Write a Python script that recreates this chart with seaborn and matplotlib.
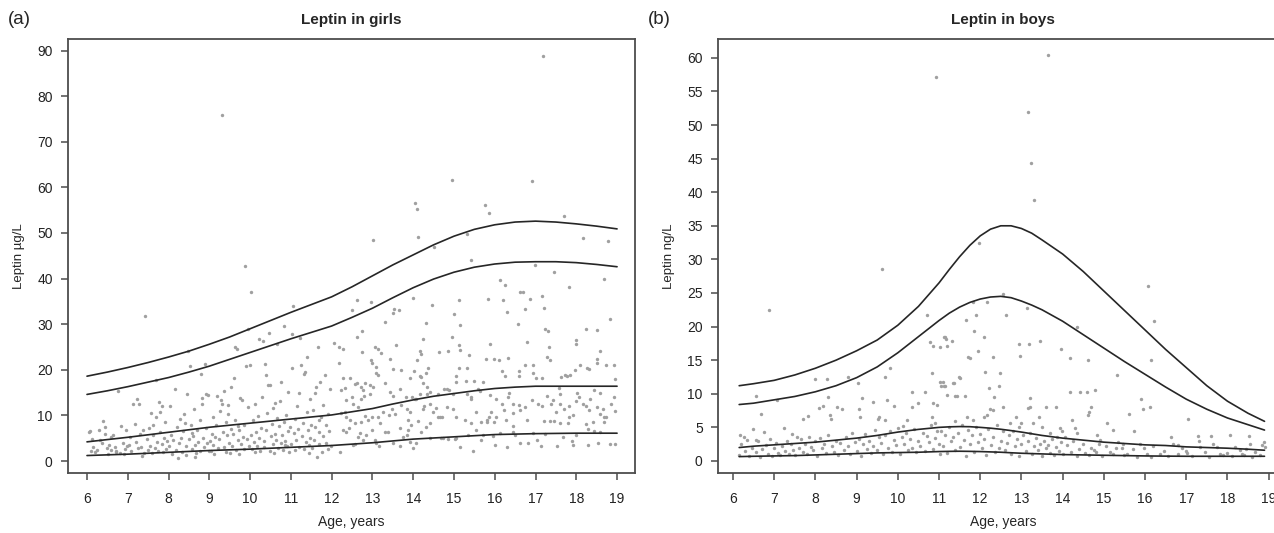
import matplotlib
matplotlib.use("Agg")
import matplotlib.pyplot as plt
import pandas as pd
import seaborn as sns

# percentile curves, girls (ages in years, leptin ug/L)
girls_curve_age = [6, 6.5, 7, 7.5, 8, 8.5, 9, 9.5, 10, 10.5, 11, 11.5, 12, 12.5, 13, 13.5,
                   14, 14.5, 15, 15.5, 16, 16.5, 17, 17.5, 18, 18.5, 19]
girls_p97 = [18.6, 19.5, 20.5, 21.6, 22.8, 24.1, 25.6, 27.2, 29.0, 30.8, 32.6, 34.3, 36.0, 38.2,
             40.6, 43.0, 45.2, 47.4, 49.3, 50.8, 51.8, 52.4, 52.6, 52.4, 52.0, 51.5, 50.9]
girls_p90 = [14.6, 15.4, 16.3, 17.3, 18.3, 19.5, 20.8, 22.3, 23.8, 25.3, 26.8, 28.2, 29.6, 31.5,
             33.5, 35.8, 38.0, 39.9, 41.4, 42.5, 43.2, 43.6, 43.7, 43.7, 43.5, 43.1, 42.6]
girls_p50 = [4.2, 4.7, 5.2, 5.75, 6.3, 6.85, 7.4, 7.85, 8.3, 8.75, 9.2, 9.65, 10.1, 10.8,
             11.5, 12.5, 13.4, 14.2, 14.8, 15.4, 15.9, 16.2, 16.4, 16.4, 16.4, 16.4, 16.4]
girls_p3 = [1.2, 1.35, 1.5, 1.7, 1.9, 2.1, 2.3, 2.45, 2.6, 2.8, 3.0, 3.2, 3.4, 3.7,
            4.0, 4.4, 4.8, 5.05, 5.3, 5.55, 5.8, 5.9, 6.0, 6.05, 6.1, 6.1, 6.1]

# percentile curves, boys (ng/L)
boys_curve_age = [6.15, 6.5, 7, 7.5, 8, 8.5, 9, 9.5, 10, 10.5, 11, 11.25, 11.5, 11.75, 12,
                  12.25, 12.5, 12.75, 13, 13.25, 13.5, 14, 14.5, 15, 15.5, 16, 16.5, 17,
                  17.5, 18, 18.5, 18.9]
boys_p97 = [11.2, 11.5, 12.0, 12.8, 13.8, 15.0, 16.4, 18.0, 20.2, 23.0, 26.5, 28.5, 30.4, 32.1,
            33.5, 34.5, 35.0, 35.0, 34.6, 33.9, 32.9, 30.8, 28.2, 25.3, 22.4, 19.5, 16.6, 13.9,
            11.2, 8.9, 7.1, 5.9]
boys_p90 = [8.4, 8.6, 9.1, 9.6, 10.3, 11.2, 12.4, 14.0, 16.1, 18.5, 20.9, 22.0, 22.9, 23.6,
            24.1, 24.4, 24.5, 24.3, 23.8, 23.2, 22.5, 20.8, 18.8, 16.8, 14.8, 12.9, 11.0, 9.2,
            7.7, 6.4, 5.4, 4.6]
boys_p50 = [2.0, 2.2, 2.4, 2.6, 2.8, 3.1, 3.4, 3.8, 4.3, 4.7, 5.0, 5.08, 5.12, 5.1, 5.0,
            4.88, 4.72, 4.52, 4.3, 4.05, 3.8, 3.4, 3.1, 2.8, 2.6, 2.4, 2.3, 2.1, 2.0, 1.9,
            1.75, 1.6]
boys_p3 = [0.65, 0.7, 0.75, 0.8, 0.9, 1.0, 1.1, 1.2, 1.25, 1.3, 1.4, 1.43, 1.45, 1.43, 1.4,
           1.35, 1.3, 1.22, 1.15, 1.1, 1.05, 0.95, 0.9, 0.85, 0.8, 0.75, 0.72, 0.7, 0.7, 0.7,
           0.7, 0.7]

# individual measurements, girls (age, leptin)
girls_points = [
    (6.05, 6.3), (6.07, 6.6), (6.1, 2.3), (6.15, 3.0), (6.2, 1.9), (6.25, 2.5), (6.29, 6.9), (6.33, 4.5),
    (6.39, 8.8), (6.43, 5.9), (6.48, 2.8), (6.52, 1.6), (6.55, 3.6), (6.6, 2.4), (6.64, 5.7), (6.68, 3.1),
    (6.72, 2.0), (6.76, 15.4), (6.8, 1.8), (6.84, 7.7), (6.88, 4.0), (6.92, 2.7), (6.96, 6.8), (6.99, 3.3),
    (6.12, 4.8), (6.36, 3.9), (6.58, 5.2), (6.7, 2.2), (6.9, 1.5), (6.45, 7.4),
    (7.02, 3.5), (7.05, 5.3), (7.08, 2.1), (7.13, 12.6), (7.17, 8.1), (7.2, 4.2), (7.23, 13.7), (7.25, 2.8),
    (7.27, 12.5), (7.3, 6.0), (7.33, 3.0), (7.37, 6.9), (7.4, 1.8), (7.43, 31.8), (7.46, 4.9), (7.5, 2.5),
    (7.53, 7.2), (7.55, 3.4), (7.58, 10.6), (7.6, 1.7), (7.63, 5.6), (7.66, 2.9), (7.68, 9.7), (7.69, 17.8),
    (7.72, 4.1), (7.74, 2.2), (7.76, 13.0), (7.78, 10.8), (7.8, 6.4), (7.83, 3.7), (7.86, 1.9), (7.88, 5.0),
    (7.91, 8.6), (7.94, 2.6), (7.97, 4.4), (7.35, 1.2), (7.62, 7.9), (7.85, 12.1),
    (8.02, 3.2), (8.03, 12.1), (8.06, 5.8), (8.09, 1.6), (8.12, 4.5), (8.15, 15.7), (8.18, 2.4), (8.2, 7.5),
    (8.23, 0.6), (8.25, 3.9), (8.28, 9.2), (8.3, 5.1), (8.33, 2.0), (8.36, 6.6), (8.39, 10.4), (8.42, 3.3),
    (8.44, 1.4), (8.46, 14.8), (8.48, 24.1), (8.5, 4.8), (8.53, 20.9), (8.55, 8.0), (8.58, 2.7), (8.6, 5.5),
    (8.62, 11.3), (8.65, 3.6), (8.68, 1.8), (8.7, 6.9), (8.73, 4.2), (8.76, 9.0), (8.78, 2.3), (8.8, 19.1),
    (8.81, 12.5), (8.83, 13.9), (8.85, 5.0), (8.87, 3.0), (8.89, 21.3), (8.91, 7.3), (8.93, 14.8), (8.95, 4.0),
    (8.97, 14.4), (8.99, 2.1), (8.4, 8.4), (8.65, 0.9), (8.57, 6.2),
    (9.02, 4.4), (9.04, 2.2), (9.06, 6.0), (9.08, 9.7), (9.1, 3.5), (9.12, 1.5), (9.14, 5.2), (9.16, 7.8),
    (9.19, 14.3), (9.21, 2.9), (9.23, 4.8), (9.25, 11.0), (9.28, 13.4), (9.3, 75.8), (9.31, 12.6), (9.33, 6.4),
    (9.35, 15.4), (9.37, 3.1), (9.4, 8.5), (9.42, 2.0), (9.44, 5.6), (9.46, 10.2), (9.48, 4.0), (9.5, 1.8),
    (9.52, 7.0), (9.54, 16.3), (9.56, 3.4), (9.58, 5.9), (9.6, 18.3), (9.62, 25.1), (9.64, 9.1), (9.66, 2.5),
    (9.68, 24.5), (9.7, 4.6), (9.72, 6.8), (9.74, 1.6), (9.76, 13.9), (9.78, 3.8), (9.8, 13.4), (9.82, 5.3),
    (9.84, 8.0), (9.86, 2.7), (9.88, 42.8), (9.9, 20.8), (9.92, 4.9), (9.94, 11.8), (9.95, 28.9), (9.97, 3.3),
    (9.99, 21.1), (9.45, 12.3), (9.7, 7.6),
    (10.02, 37.0), (10.03, 5.7), (10.05, 2.6), (10.07, 8.9), (10.09, 4.1), (10.11, 12.5), (10.13, 1.9),
    (10.15, 6.3), (10.17, 3.4), (10.19, 9.8), (10.21, 5.0), (10.23, 26.7), (10.25, 2.3), (10.27, 7.2),
    (10.29, 14.0), (10.31, 26.4), (10.33, 4.4), (10.35, 3.0), (10.37, 21.2), (10.38, 18.8), (10.4, 6.8),
    (10.42, 10.6), (10.44, 16.6), (10.46, 28.1), (10.48, 2.1), (10.49, 16.6), (10.51, 5.4), (10.53, 8.2),
    (10.55, 3.7), (10.57, 11.7), (10.59, 1.7), (10.61, 6.0), (10.63, 4.6), (10.65, 9.4), (10.67, 25.7),
    (10.69, 2.8), (10.71, 7.7), (10.73, 13.2), (10.75, 3.9), (10.76, 17.4), (10.78, 5.8), (10.8, 2.4),
    (10.82, 8.6), (10.84, 29.5), (10.86, 4.3), (10.88, 10.1), (10.9, 3.2), (10.92, 6.5), (10.94, 15.1),
    (10.96, 1.9), (10.98, 7.4), (10.6, 12.8), (10.85, 3.6),
    (11.01, 3.8), (11.02, 27.9), (11.03, 20.3), (11.05, 34.0), (11.07, 6.1), (11.09, 2.5), (11.11, 9.3),
    (11.13, 4.7), (11.15, 12.0), (11.17, 7.0), (11.19, 3.1), (11.21, 15.0), (11.23, 27.0), (11.25, 21.1),
    (11.27, 5.5), (11.29, 8.4), (11.31, 2.6), (11.33, 19.1), (11.35, 19.6), (11.37, 4.2), (11.39, 10.8),
    (11.4, 22.7), (11.42, 6.7), (11.44, 3.5), (11.46, 13.6), (11.48, 5.0), (11.5, 8.0), (11.52, 2.9),
    (11.54, 11.2), (11.56, 4.6), (11.58, 7.5), (11.6, 14.9), (11.62, 16.3), (11.64, 0.9), (11.66, 24.9),
    (11.68, 6.3), (11.7, 3.7), (11.72, 17.4), (11.74, 9.6), (11.76, 2.0), (11.78, 5.4), (11.8, 12.2),
    (11.83, 18.9), (11.85, 4.0), (11.87, 7.8), (11.9, 10.4), (11.92, 2.7), (11.94, 6.6), (11.96, 15.8),
    (11.98, 3.3), (11.45, 1.8), (11.7, 9.0), (12.07, 25.8), (12.17, 24.9), (12.17, 21.4),
    (14.96, 61.6), (16.92, 61.3), (14.04, 56.5), (14.09, 55.3), (15.76, 56.1), (15.87, 54.4), (17.71, 53.7),
    (13.01, 48.4), (14.13, 49.1), (15.31, 49.8), (18.17, 48.9), (18.77, 48.2), (14.51, 46.9), (15.42, 44.1),
    (16.98, 43.0), (17.46, 41.4), (18.69, 39.9), (16.14, 39.7), (16.26, 38.5), (16.61, 37.1), (16.69, 37.1),
    (17.15, 36.2), (17.83, 38.1), (12.51, 33.1), (12.61, 35.3), (12.96, 34.8), (13.52, 33.3), (13.65, 33.1),
    (13.51, 32.4), (14.0, 35.7), (14.47, 34.2), (15.13, 35.3), (15.0, 32.2), (15.84, 35.5), (16.2, 35.3),
    (16.29, 32.7), (16.86, 35.5), (16.74, 33.4), (17.21, 33.6), (16.56, 30.0), (15.16, 29.8), (14.31, 30.3),
    (13.31, 30.5), (18.82, 31.1), (18.25, 29.0), (18.52, 28.7), (17.24, 28.9), (17.31, 28.4), (12.63, 27.3),
    (12.75, 28.4), (14.24, 26.7), (14.94, 27.1), (16.8, 26.1), (17.99, 26.5), (17.99, 25.6), (13.06, 24.9),
    (13.14, 24.5), (13.22, 23.6), (13.57, 25.4), (14.16, 24.1), (14.2, 23.5), (14.64, 24.0), (14.86, 24.2),
    (15.13, 25.4), (15.16, 24.3), (15.88, 25.7), (17.33, 25.1), (17.28, 22.9), (17.36, 22.1), (18.59, 24.1),
    (12.96, 22.1), (13.0, 21.6), (12.27, 24.5), (12.74, 23.8), (13.44, 22.3), (14.1, 22.1), (15.38, 23.2),
    (15.78, 22.3), (15.98, 22.4), (16.1, 22.1), (16.33, 22.6), (18.5, 22.4), (18.5, 21.4), (18.31, 20.2),
    (18.26, 20.5), (18.72, 21.1), (18.92, 21.1), (18.1, 21.1), (17.96, 20.0), (17.72, 18.9), (17.84, 18.8),
    (17.76, 18.7), (18.94, 18.0), (17.63, 18.5), (13.1, 20.7), (13.14, 18.9), (13.08, 19.2), (13.51, 20.1),
    (13.7, 20.0), (13.92, 18.1), (14.01, 19.8), (14.16, 18.6), (14.2, 18.5), (14.37, 20.3), (14.31, 19.4),
    (14.24, 17.0), (15.06, 18.6), (15.13, 20.5), (15.32, 20.5), (15.05, 17.4), (15.29, 17.6), (15.49, 17.6),
    (15.7, 17.4), (16.18, 19.8), (16.26, 18.6), (16.6, 19.8), (16.6, 18.6), (16.74, 21.1), (16.93, 21.1),
    (16.93, 19.4), (17.02, 18.1), (17.15, 18.1), (14.82, 15.7), (14.88, 15.6), (14.98, 14.8), (14.4, 15.1),
    (14.62, 14.8), (14.75, 15.7), (14.16, 14.8), (14.05, 13.7), (15.58, 15.7), (15.63, 15.3), (15.89, 14.5),
    (16.36, 15.0), (16.33, 14.1), (15.43, 14.1), (16.04, 13.5), (16.19, 12.5), (15.92, 10.8), (15.86, 9.6),
    (15.8, 8.6), (16.45, 12.5), (16.6, 12.2), (16.91, 13.4), (17.17, 12.1), (17.27, 14.3), (17.37, 12.5),
    (17.43, 13.4), (17.58, 15.9), (17.59, 14.8), (17.81, 12.1), (17.92, 10.1), (18.02, 15.0), (18.07, 14.0),
    (17.99, 13.2), (18.16, 12.6), (18.23, 12.1), (18.3, 11.2), (18.34, 13.5), (18.43, 15.6), (18.57, 15.0),
    (18.65, 11.5), (18.69, 9.6), (18.67, 8.6), (18.95, 11.0), (17.45, 8.8), (17.35, 8.7), (17.2, 8.8),
    (17.59, 8.3), (17.8, 8.4), (17.82, 9.7), (18.25, 8.1), (18.28, 7.1), (18.44, 6.5), (16.93, 6.2),
    (17.04, 4.6), (16.81, 4.0), (16.62, 3.9), (17.53, 3.3), (17.89, 4.4), (18.94, 3.7), (15.47, 2.3),
    (16.03, 9.6), (15.98, 8.6), (15.8, 9.1), (15.67, 8.6), (16.45, 7.7), (16.46, 6.4), (16.27, 9.1),
    (16.23, 11.2), (15.96, 5.5), (15.67, 4.6), (15.35, 5.6), (15.02, 4.8), (14.86, 4.9), (14.69, 5.0),
    (15.55, 6.9), (15.43, 8.3), (15.27, 9.1), (15.06, 9.6), (14.98, 11.3), (14.82, 11.9), (14.61, 9.7),
    (14.57, 11.6), (14.71, 9.6), (14.42, 8.3), (14.31, 7.4), (14.2, 6.4), (14.11, 8.8), (13.94, 7.9),
    (13.88, 9.0), (13.87, 6.7), (13.75, 5.3), (13.84, 5.7), (13.67, 7.3), (13.55, 10.3), (13.47, 11.3),
    (13.41, 10.1), (13.26, 10.7), (13.14, 9.6), (13.18, 8.4), (12.98, 9.7), (12.88, 9.0), (12.82, 9.9),
    (13.3, 6.4), (13.38, 6.4), (13.06, 4.6), (12.69, 6.2), (12.65, 5.3), (12.58, 3.7), (12.53, 3.5),
    (12.77, 4.6), (12.85, 5.7), (12.98, 6.9), (13.08, 3.9), (13.16, 3.3), (12.73, 8.6), (12.57, 8.3),
    (12.46, 9.0), (12.36, 9.7), (12.32, 10.8), (12.24, 10.5), (12.43, 7.2), (12.35, 6.4), (12.27, 6.7),
    (12.2, 2.0), (12.53, 12.6), (12.65, 11.9), (12.71, 13.5), (12.79, 14.3), (12.94, 14.8), (13.02, 16.3),
    (12.81, 17.0), (12.94, 16.7), (12.36, 13.4), (12.49, 14.1), (12.24, 15.6), (12.32, 15.9), (12.57, 16.9),
    (12.71, 16.3), (12.77, 15.6), (12.45, 18.1), (12.61, 17.0), (12.27, 18.1), (13.3, 17.0), (13.43, 15.2),
    (13.51, 14.3), (13.67, 15.7), (13.82, 14.1), (13.71, 12.3), (13.84, 11.3), (13.92, 10.8), (14.23, 11.5),
    (14.26, 12.1), (14.42, 12.6), (14.49, 10.7), (14.65, 9.7), (13.96, 14.1), (14.08, 13.7), (14.33, 16.3),
    (14.34, 14.8), (15.31, 14.8), (15.43, 13.7), (15.55, 10.8), (16.45, 10.5), (16.61, 11.2), (16.73, 11.9),
    (17.06, 12.6), (16.78, 9.0), (17.59, 12.6), (17.71, 11.5), (17.51, 10.8), (18.74, 9.6), (18.59, 10.3),
    (18.51, 11.9), (18.41, 8.6), (18.86, 12.6), (18.92, 14.1), (14.41, 5.0), (14.73, 5.1), (15.06, 5.0),
    (15.71, 5.7), (16.12, 6.1), (16.49, 5.7), (17.23, 5.9), (17.68, 5.3), (18.0, 5.7), (18.58, 6.4),
    (18.82, 3.7), (18.53, 3.9), (18.29, 3.5), (17.92, 3.5), (17.14, 3.4), (16.29, 3.1), (16.0, 3.5),
    (15.14, 3.1), (13.92, 4.2), (14.08, 3.9), (13.51, 3.9), (13.67, 3.3), (14.0, 2.8), (17.18, 88.9),
]

# individual measurements, boys (age, leptin)
boys_points = [
    (6.88, 22.5), (6.57, 9.7), (6.67, 7.0), (7.06, 9.1), (6.17, 3.8), (6.27, 3.6), (6.49, 4.7), (6.57, 3.1),
    (6.75, 4.3), (7.24, 4.9), (7.42, 4.0), (7.55, 3.6), (7.71, 6.3), (7.83, 6.7), (7.99, 12.2), (8.27, 12.2),
    (8.09, 7.9), (8.18, 8.2), (8.31, 9.5), (8.35, 6.8), (8.38, 6.3), (8.53, 8.1), (8.64, 7.7), (8.8, 12.5),
    (9.04, 11.6), (9.12, 9.3), (9.07, 7.8), (9.08, 6.6), (9.41, 8.8), (9.53, 6.3), (9.55, 6.6), (9.69, 6.1),
    (9.73, 9.0), (9.69, 12.5), (9.81, 13.8), (9.91, 8.2), (10.22, 6.1), (10.13, 5.2), (10.34, 10.3),
    (10.34, 8.1), (10.5, 8.6), (10.66, 10.3), (10.72, 21.7), (10.82, 13.1), (10.77, 17.7), (10.86, 17.1),
    (10.86, 8.6), (10.94, 8.3), (10.82, 6.6), (10.9, 5.6), (11.02, 11.8), (11.06, 11.1), (11.12, 11.1),
    (11.12, 18.5), (11.17, 18.1), (11.31, 17.9), (11.49, 12.5), (11.43, 9.6), (11.36, 11.6), (11.63, 9.6),
    (11.66, 21.0), (11.71, 15.4), (11.02, 17.0), (10.93, 57.2), (9.61, 28.5), (13.64, 60.4), (13.16, 51.9),
    (13.23, 44.4), (13.31, 38.8), (11.97, 32.5),
    (16.08, 26.0), (16.22, 20.9), (16.14, 15.0), (12.56, 24.9), (12.16, 23.6), (11.83, 23.7), (12.62, 21.7),
    (11.9, 21.7), (13.13, 22.7), (11.85, 19.4), (11.15, 18.4), (11.19, 17.1), (12.1, 18.4), (11.95, 16.4),
    (12.94, 17.4), (13.19, 17.4), (13.44, 17.9), (11.75, 15.3), (12.32, 15.4), (12.96, 15.6), (13.95, 16.6),
    (14.17, 15.3), (14.34, 20.0), (14.61, 15.0), (15.31, 12.8), (12.12, 13.3), (12.48, 13.1), (12.46, 11.1),
    (12.22, 10.8), (11.5, 12.3), (11.35, 11.6), (11.09, 11.8), (11.15, 11.1), (11.39, 9.6), (11.19, 9.8),
    (12.34, 9.5), (13.2, 9.3), (13.21, 8.1), (13.15, 7.9), (13.6, 8.1), (13.84, 8.0), (14.19, 10.3),
    (14.42, 10.2), (14.59, 10.2), (14.78, 10.6), (14.7, 8.1), (14.65, 7.3), (14.62, 6.8), (15.91, 9.2),
    (15.96, 7.8), (16.12, 8.0), (15.62, 7.0), (15.07, 5.7), (15.23, 4.6), (15.74, 4.4), (17.05, 6.3),
    (12.24, 7.8), (12.32, 7.6), (12.56, 8.0), (12.16, 6.8), (12.08, 6.6), (11.83, 6.1), (11.69, 6.6),
    (11.39, 5.9), (12.72, 5.7), (12.88, 6.5), (13.0, 5.7), (12.95, 5.1), (13.27, 5.6), (13.42, 6.6),
    (13.51, 5.1), (13.94, 4.9), (13.98, 4.4), (14.05, 3.6), (13.86, 3.6), (13.7, 4.1), (14.22, 6.1),
    (14.3, 4.9), (14.34, 4.1), (14.83, 3.9), (14.89, 2.6), (14.75, 1.6), (15.46, 2.6), (15.44, 1.9),
    (15.3, 1.9), (15.23, 1.1), (15.56, 1.1), (15.88, 2.6), (15.98, 1.9), (16.05, 1.1), (16.14, 0.6),
    (16.36, 1.0), (16.62, 3.6), (16.69, 2.6), (16.81, 2.4), (16.79, 1.1), (17.0, 1.5), (17.03, 1.2),
    (17.29, 3.7), (17.31, 3.0), (17.33, 2.1), (17.59, 3.7), (17.66, 2.6), (17.74, 2.1), (18.07, 3.9),
    (18.19, 2.1), (17.82, 1.1), (17.9, 0.9), (18.31, 1.6), (18.35, 1.1), (18.39, 0.9), (18.53, 3.7),
    (18.55, 2.6), (18.67, 1.4), (18.79, 0.9), (18.83, 2.4), (18.89, 2.8), (18.91, 2.1),
    (11.05, 4.5), (11.1, 2.3), (11.15, 3.8), (11.2, 1.2), (11.25, 5.0), (11.3, 2.9), (11.35, 3.5), (11.4, 1.6),
    (11.45, 4.2), (11.5, 2.1), (11.55, 5.4), (11.6, 3.1), (11.65, 0.8), (11.7, 4.6), (11.75, 2.6), (11.8, 3.9),
    (11.85, 1.4), (11.9, 5.1), (11.95, 2.8), (12.0, 4.0), (12.05, 1.9), (12.1, 3.3), (12.15, 0.9), (12.2, 4.8),
    (12.25, 2.4), (12.3, 3.6), (12.35, 1.3), (12.4, 5.3), (12.45, 2.0), (12.5, 3.0), (12.55, 4.4), (12.6, 1.6),
    (12.65, 2.7), (12.7, 3.8), (12.75, 1.1), (12.8, 4.5), (12.85, 2.2), (12.9, 3.2), (12.95, 0.7), (13.0, 2.5),
    (13.05, 3.9), (13.1, 1.5), (13.15, 2.9), (13.2, 4.2), (13.25, 1.0), (13.3, 2.3), (13.35, 3.4), (13.4, 1.7),
    (13.45, 2.6), (13.5, 0.8), (13.55, 3.0), (13.6, 1.9), (13.65, 2.4), (13.7, 1.2), (13.75, 3.3), (13.8, 0.9),
    (13.85, 2.1), (13.9, 1.5), (13.95, 2.8), (14.0, 1.0), (14.1, 2.4), (14.2, 1.3), (14.25, 3.0), (14.35, 0.8),
    (14.4, 1.8), (14.5, 2.6), (14.55, 1.2), (14.65, 0.9), (14.7, 2.0), (14.8, 1.4), (14.9, 3.1), (14.95, 0.7),
    (15.05, 2.2), (15.15, 1.3), (15.35, 2.8), (15.5, 0.9), (15.7, 1.8), (15.8, 0.6), (16.2, 2.2), (16.45, 1.5),
    (16.55, 0.7), (16.9, 1.9), (17.15, 0.8), (17.45, 1.3), (17.55, 0.6), (18.0, 1.2), (18.1, 0.7), (18.45, 1.8),
    (18.6, 0.6),
    (6.15, 0.9), (6.2, 2.6), (6.3, 1.5), (6.35, 3.1), (6.4, 0.7), (6.45, 2.0), (6.55, 1.3), (6.6, 2.9),
    (6.65, 0.6), (6.7, 1.8), (6.8, 2.4), (6.85, 1.0), (6.9, 3.3), (6.95, 0.8), (7.0, 1.9), (7.05, 2.7),
    (7.1, 1.2), (7.15, 0.9), (7.2, 2.2), (7.25, 1.5), (7.3, 3.0), (7.35, 1.1), (7.4, 2.5), (7.45, 1.7),
    (7.5, 0.9), (7.6, 2.0), (7.65, 3.2), (7.7, 1.3), (7.75, 2.6), (7.8, 1.0), (7.85, 3.5), (7.9, 2.1),
    (7.95, 1.6), (8.0, 2.9), (8.05, 0.8), (8.1, 3.4), (8.15, 1.9), (8.2, 2.5), (8.25, 1.2), (8.3, 3.8),
    (8.4, 2.2), (8.45, 1.4), (8.5, 3.0), (8.55, 0.9), (8.6, 2.7), (8.7, 1.6), (8.75, 3.6), (8.8, 2.3),
    (8.85, 1.1), (8.9, 4.2), (8.95, 2.8), (9.0, 1.5), (9.05, 3.3), (9.1, 0.7), (9.15, 2.5), (9.2, 4.0),
    (9.25, 1.8), (9.3, 3.0), (9.35, 1.2), (9.4, 2.2), (9.45, 4.6), (9.5, 1.6), (9.55, 3.5), (9.6, 2.7),
    (9.65, 1.0), (9.7, 3.9), (9.75, 2.0), (9.8, 4.4), (9.85, 1.4), (9.9, 3.1), (9.95, 2.4), (10.0, 4.9),
    (10.05, 1.1), (10.1, 3.6), (10.15, 2.6), (10.2, 4.2), (10.25, 1.7), (10.3, 3.3), (10.35, 2.0),
    (10.4, 4.8), (10.45, 1.3), (10.5, 3.0), (10.55, 2.3), (10.6, 4.1), (10.65, 1.5), (10.7, 3.7),
    (10.75, 2.8), (10.8, 5.3), (10.85, 1.8), (10.9, 3.4), (10.95, 4.5), (11.0, 2.5), (11.02, 1.0),
]

W, H = 1274, 533
SPINE = "#4d4d4d"
DOT = "#a0a0a0"
LINE = "#262626"


def draw_panel(ax, points, curve_age, curves, title, ylabel, yticks, xlim, ylim):
    pts = pd.DataFrame(points, columns=["age", "leptin"])
    sns.scatterplot(data=pts, x="age", y="leptin", ax=ax, color=DOT, s=6,
                    linewidth=0, legend=False, zorder=2)
    for values in curves:
        sns.lineplot(x=curve_age, y=values, ax=ax, color=LINE, linewidth=1.2,
                     estimator=None, legend=False, zorder=3)
    ax.set_xlim(*xlim)
    ax.set_ylim(*ylim)
    ax.set_xticks(range(6, 20))
    ax.set_yticks(yticks)
    ax.set_title(title, fontweight="bold", fontsize=11, pad=11)
    ax.set_xlabel("Age, years", fontsize=10, labelpad=6)
    ax.set_ylabel(ylabel, fontsize=9.5, labelpad=9)
    ax.tick_params(direction="out", length=5, width=1.1, color=SPINE,
                   labelsize=10, labelcolor="#222222")
    ax.tick_params(axis="x", pad=9)
    ax.tick_params(axis="y", pad=6)
    for side in ["left", "right", "top", "bottom"]:
        ax.spines[side].set_visible(True)
        ax.spines[side].set_color(SPINE)
        ax.spines[side].set_linewidth(1.3)
    ax.grid(False)


sns.set_theme(style="ticks")
plt.rcParams["font.family"] = ["Liberation Sans", "DejaVu Sans"]

fig = plt.figure(figsize=(W / 100, H / 100), dpi=100)
ax_girls = fig.add_axes([68 / W, (H - 473) / H, 567 / W, 434 / H])
ax_boys = fig.add_axes([718 / W, (H - 473) / H, 570 / W, 434 / H])

draw_panel(ax_girls, girls_points, girls_curve_age,
           [girls_p97, girls_p90, girls_p50, girls_p3],
           "Leptin in girls", "Leptin µg/L", range(0, 91, 10),
           (5.534, 19.44), (-2.63, 92.54))
draw_panel(ax_boys, boys_points, boys_curve_age,
           [boys_p97, boys_p90, boys_p50, boys_p3],
           "Leptin in boys", "Leptin ng/L", range(0, 61, 5),
           (5.636, 19.47), (-1.79, 62.8))

fig.text(8 / W, 1 - 20 / H, "(a)", fontsize=13.5, va="center", ha="left")
fig.text(648 / W, 1 - 20 / H, "(b)", fontsize=13.5, va="center", ha="left")

fig.savefig("out.png", dpi=100, facecolor="white")
